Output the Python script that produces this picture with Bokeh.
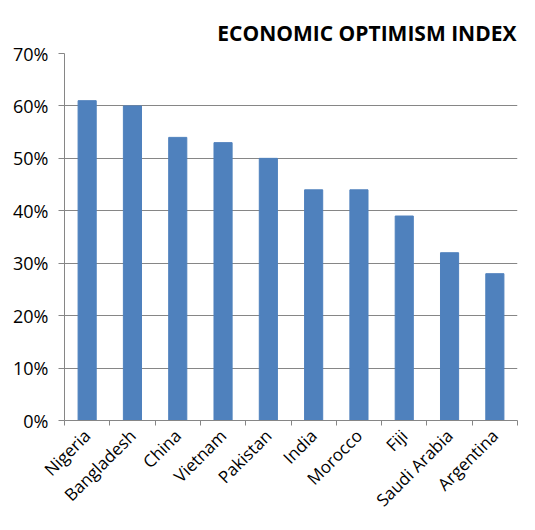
import math
from bokeh.plotting import figure
from bokeh.models import ColumnDataSource, FixedTicker, NumeralTickFormatter, Range1d
from bokeh.embed import file_html
from bokeh.resources import INLINE

countries = ["Nigeria", "Bangladesh", "China", "Vietnam", "Pakistan", "India",
             "Morocco", "Fiji", "Saudi Arabia", "Argentina"]
values = [0.61, 0.60, 0.54, 0.53, 0.50, 0.44, 0.44, 0.39, 0.32, 0.28]
y_ticks = [0, 0.1, 0.2, 0.3, 0.4, 0.5, 0.6, 0.7]
title_text = "ECONOMIC OPTIMISM INDEX"

xs = [i + 0.5 for i in range(len(countries))]
src = ColumnDataSource(dict(x=xs, top=values, name=countries))

p = figure(width=535, height=530, output_backend="svg", toolbar_location=None,
           x_range=Range1d(0, len(countries)), y_range=Range1d(0, 0.7),
           min_border_left=64, min_border_right=18, min_border_top=53, min_border_bottom=110)
p.vbar(x="x", top="top", width=0.4, source=src, color="#4F81BD")

p.title.text = title_text
p.title.align = "right"
p.title.vertical_align = "top"
p.title.text_font = "Open Sans"
p.title.text_font_size = "21px"
p.title.text_font_style = "bold"
p.title.text_color = "#000000"
p.title.offset = 1
p.title.standoff = 10

p.outline_line_color = None
p.background_fill_color = "white"

# y axis
p.yaxis.ticker = FixedTicker(ticks=y_ticks)
p.yaxis.formatter = NumeralTickFormatter(format="0%")
p.yaxis.major_label_text_font = "Open Sans"
p.yaxis.major_label_text_font_size = "18px"
p.yaxis.major_label_text_color = "#000000"
p.yaxis.axis_line_color = "#868686"
p.yaxis.major_tick_line_color = "#868686"
p.yaxis.major_tick_out = 6
p.yaxis.major_tick_in = 0
p.yaxis.minor_tick_line_color = None
p.yaxis.major_label_standoff = 10

# x axis
p.xaxis.ticker = FixedTicker(ticks=xs, minor_ticks=list(range(len(countries) + 1)))
p.xaxis.major_label_overrides = {x: n for x, n in zip(xs, countries)}
p.xaxis.major_label_orientation = math.pi / 4
p.xaxis.major_label_text_font = "Open Sans"
p.xaxis.major_label_text_font_size = "17px"
p.xaxis.major_label_text_color = "#000000"
p.xaxis.axis_line_color = "#868686"
p.xaxis.major_tick_line_color = None
p.xaxis.minor_tick_line_color = "#868686"
p.xaxis.minor_tick_out = 5
p.xaxis.minor_tick_in = 0
p.xaxis.major_label_standoff = 6

p.xgrid.grid_line_color = None
p.ygrid.ticker = FixedTicker(ticks=y_ticks)
p.ygrid.grid_line_color = "#868686"
p.ygrid.grid_line_width = 1

open("out.html", "w").write(file_html(p, INLINE))
